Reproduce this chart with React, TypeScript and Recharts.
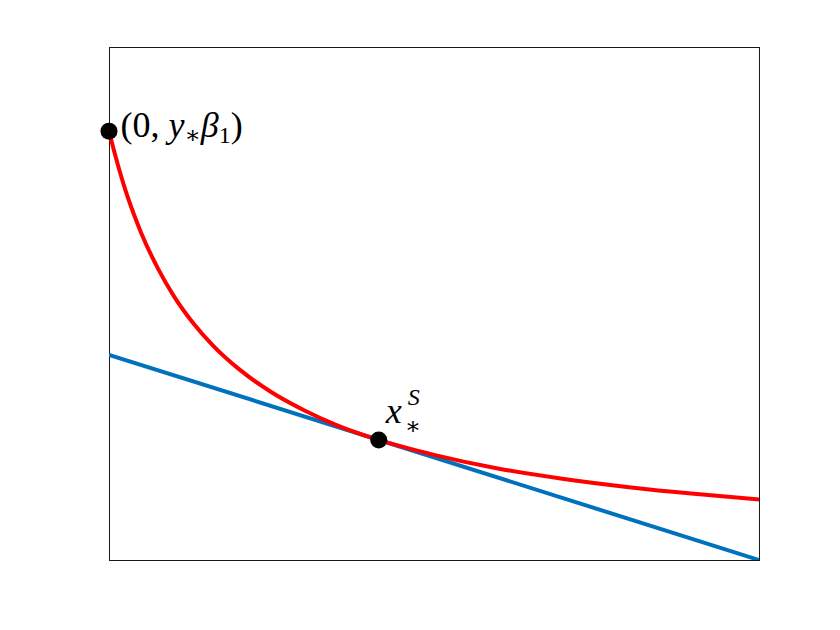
import { ComposedChart, Line, XAxis, YAxis, ReferenceArea, ReferenceDot } from "recharts";

// red curve (x in [0,1], y in [0,1])
const curveX = [0, 0.01, 0.025, 0.04, 0.05, 0.075, 0.1, 0.13, 0.16, 0.2, 0.25, 0.3, 0.35, 0.415, 0.5, 0.6, 0.7, 0.8, 0.9, 1.0];
const curveY = [0.836, 0.787, 0.722, 0.668, 0.636, 0.569, 0.514, 0.461, 0.418, 0.372, 0.327, 0.292, 0.263, 0.234, 0.205, 0.178, 0.158, 0.142, 0.129, 0.118];

// blue tangent line
const lineX = [0, 1];
const lineY = [0.4, 0];

// marked points
const startPoint = { x: 0, y: 0.836 };
const tangentPoint = { x: 0.415, y: 0.234 };

const curveData = curveX.map((x, i) => ({ x, y: curveY[i] }));
const lineData = lineX.map((x, i) => ({ x, y: lineY[i] }));

const FONT = "Liberation Serif, DejaVu Serif, serif";

function StartLabel(props: any) {
  const vb = props.viewBox || {};
  const x = vb.x + vb.width + 3;
  const y = vb.y + vb.height / 2 + 6;
  return (
    <text x={x} y={y} style={{ fontFamily: FONT, fontSize: 36 }} fill="#000">
      <tspan>(0, </tspan>
      <tspan fontStyle="italic">y</tspan>
      <tspan style={{ fontSize: 24 }} dy={6}>∗</tspan>
      <tspan fontStyle="italic" dy={-6}>β</tspan>
      <tspan style={{ fontSize: 24 }} dy={6}>1</tspan>
      <tspan dy={-6}>)</tspan>
    </text>
  );
}

function TangentLabel(props: any) {
  const vb = props.viewBox || {};
  const cx = vb.x + vb.width / 2;
  const cy = vb.y + vb.height / 2;
  return (
    <g fill="#000">
      <text x={cx + 7} y={cy - 17} style={{ fontFamily: FONT, fontSize: 36, fontStyle: "italic" }}>x</text>
      <text x={cx + 29} y={cy - 35} style={{ fontFamily: FONT, fontSize: 24, fontStyle: "italic" }}>S</text>
      <text x={cx + 26} y={cy - 6} style={{ fontFamily: FONT, fontSize: 24 }}>∗</text>
    </g>
  );
}

export default function App() {
  return (
    <div style={{ position: "absolute", left: 0, top: 0, background: "#fff" }}>
      <ComposedChart
        width={840}
        height={630}
        margin={{ top: 47, right: 81, bottom: 70, left: 109 }}
      >
        <XAxis dataKey="x" type="number" domain={[0, 1]} hide allowDataOverflow />
        <YAxis type="number" domain={[0, 1]} hide allowDataOverflow />
        <ReferenceArea
          x1={0}
          x2={1}
          y1={0}
          y2={1}
          fill="none"
          stroke="#1a1a1a"
          strokeWidth={1}
          shapeRendering="crispEdges"
          ifOverflow="visible"
        />
        <Line
          data={lineData}
          dataKey="y"
          stroke="#0072BD"
          strokeWidth={4}
          dot={false}
          isAnimationActive={false}
        />
        <Line
          data={curveData}
          dataKey="y"
          type="monotone"
          stroke="#FF0000"
          strokeWidth={4}
          dot={false}
          isAnimationActive={false}
        />
        <ReferenceDot
          x={startPoint.x}
          y={startPoint.y}
          r={8.5}
          fill="#000"
          stroke="none"
          ifOverflow="visible"
          label={<StartLabel />}
        />
        <ReferenceDot
          x={tangentPoint.x}
          y={tangentPoint.y}
          r={8.5}
          fill="#000"
          stroke="none"
          ifOverflow="visible"
          label={<TangentLabel />}
        />
      </ComposedChart>
    </div>
  );
}
